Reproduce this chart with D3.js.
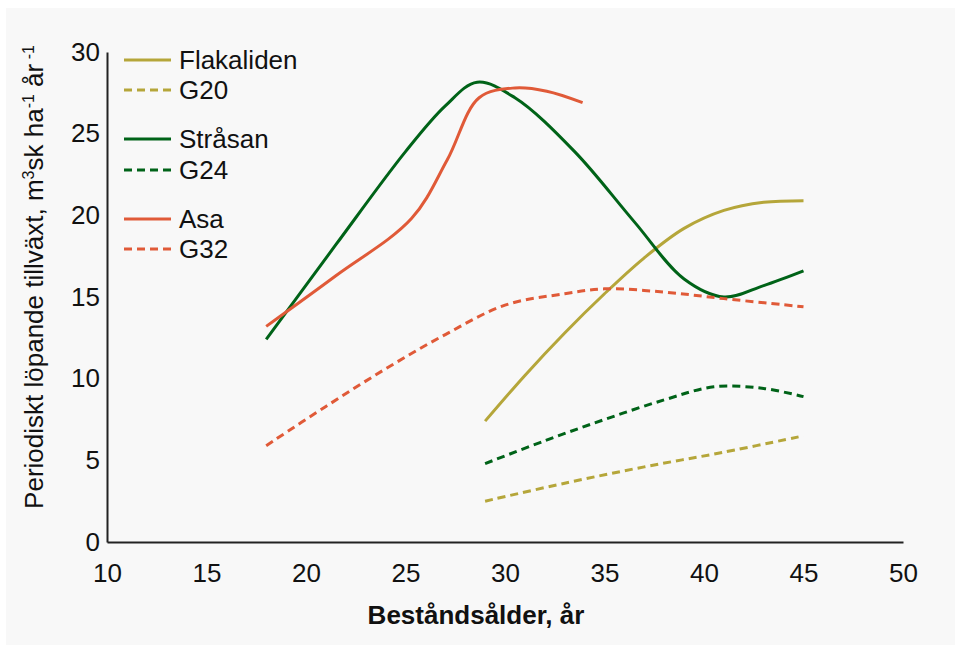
<!DOCTYPE html>
<html>
<head>
<meta charset="utf-8">
<script src="https://cdn.jsdelivr.net/npm/d3@7"></script>
<style>
  body { margin: 0; background: #fff; }
  text { font-family: "Liberation Sans", Arial, sans-serif; fill: #111; }
</style>
</head>
<body>
<svg id="chart" width="961" height="653"></svg>
<script>
// ages (x) and growth values (y)
var flakalidenAge = [29, 31, 33, 35, 37, 39, 41, 43, 45];
var flakalidenVal = [7.4, 10.2, 12.8, 15.2, 17.4, 19.2, 20.3, 20.8, 20.9];
var g20Age = [29, 33, 37, 41, 45];
var g20Val = [2.5, 3.6, 4.6, 5.5, 6.5];
var strasanAge = [18, 21.5, 25, 27, 28.6, 30.5, 33.5, 36.5, 39, 41, 43, 45];
var strasanVal = [12.4, 18.2, 23.9, 26.7, 28.15, 27.2, 23.9, 19.6, 16.1, 15.0, 15.7, 16.6];
var g24Age = [29, 32, 35, 38, 40.5, 43, 45];
var g24Val = [4.8, 6.2, 7.5, 8.7, 9.5, 9.4, 8.9];
var asaAge = [18, 21.5, 25.3, 27.1, 28.7, 30.5, 32.1, 33.9];
var asaVal = [13.2, 16.3, 19.8, 23.4, 27.2, 27.8, 27.6, 26.9];
var g32Age = [18, 21, 24, 27, 30, 33, 35, 38, 41, 45];
var g32Val = [5.9, 8.3, 10.6, 12.7, 14.5, 15.2, 15.5, 15.3, 14.9, 14.4];

var xTicks = [10, 15, 20, 25, 30, 35, 40, 45, 50];
var yTicks = [0, 5, 10, 15, 20, 25, 30];

var olive = "#b5a63a", green = "#006318", red = "#e05a38";

var series = [
  { name: "Flakaliden", x: flakalidenAge, y: flakalidenVal, color: olive, dash: null },
  { name: "G20", x: g20Age, y: g20Val, color: olive, dash: "8,5" },
  { name: "Stråsan", x: strasanAge, y: strasanVal, color: green, dash: null },
  { name: "G24", x: g24Age, y: g24Val, color: green, dash: "8,5" },
  { name: "Asa", x: asaAge, y: asaVal, color: red, dash: null },
  { name: "G32", x: g32Age, y: g32Val, color: red, dash: "8,5" }
];
var legendY = [60, 90, 139, 170, 219, 249];

var svg = d3.select("#chart");

svg.append("rect")
  .attr("x", 6).attr("y", 8)
  .attr("width", 949).attr("height", 637)
  .attr("fill", "#f8f8f8");

var x = d3.scaleLinear().domain([10, 50]).range([107, 903]);
var y = d3.scaleLinear().domain([0, 30]).range([542, 52]);

// axes
var xAxis = svg.append("g")
  .attr("transform", "translate(0,542)")
  .call(d3.axisBottom(x).tickValues(xTicks).tickSize(0).tickPadding(22).tickFormat(d3.format("d")));
xAxis.select(".domain").attr("stroke", "#222").attr("stroke-width", 2);
xAxis.selectAll("text").style("font-size", "26px").attr("fill", "#111")
  .style("font-family", "'Liberation Sans', Arial, sans-serif");

var yAxis = svg.append("g")
  .attr("transform", "translate(107,0)")
  .call(d3.axisLeft(y).tickValues(yTicks).tickSize(0).tickPadding(7).tickFormat(d3.format("d")));
yAxis.select(".domain").attr("stroke", "#222").attr("stroke-width", 2);
yAxis.selectAll("text").style("font-size", "26px").attr("fill", "#111")
  .style("font-family", "'Liberation Sans', Arial, sans-serif");

// axis titles
svg.append("text")
  .attr("x", 476).attr("y", 624)
  .attr("text-anchor", "middle")
  .style("font-size", "26px").style("font-weight", "bold")
  .text("Beståndsålder, år");

var yt = svg.append("text")
  .attr("transform", "translate(43,277) rotate(-90)")
  .attr("text-anchor", "middle")
  .style("font-size", "26px");
yt.append("tspan").text("Periodiskt löpande tillväxt, m");
yt.append("tspan").attr("dy", -9).style("font-size", "16px").text("3");
yt.append("tspan").attr("dy", 9).text("sk ha");
yt.append("tspan").attr("dy", -9).style("font-size", "16px").text("-1");
yt.append("tspan").attr("dy", 9).text(" år");
yt.append("tspan").attr("dy", -9).style("font-size", "16px").text(" -1");

// lines
var line = d3.line()
  .x(function(d) { return x(d[0]); })
  .y(function(d) { return y(d[1]); })
  .curve(d3.curveCatmullRom.alpha(0.5));

series.forEach(function(s) {
  var pts = s.x.map(function(v, i) { return [v, s.y[i]]; });
  svg.append("path")
    .datum(pts)
    .attr("d", line)
    .attr("fill", "none")
    .attr("stroke", s.color)
    .attr("stroke-width", 3)
    .attr("stroke-dasharray", s.dash);
});

// legend
series.forEach(function(s, i) {
  var ly = legendY[i];
  svg.append("line")
    .attr("x1", 124).attr("x2", 171)
    .attr("y1", ly).attr("y2", ly)
    .attr("stroke", s.color).attr("stroke-width", 3)
    .attr("stroke-dasharray", s.dash);
  svg.append("text")
    .attr("x", 179).attr("y", ly + 9)
    .style("font-size", "26px")
    .text(s.name);
});
</script>
</body>
</html>
